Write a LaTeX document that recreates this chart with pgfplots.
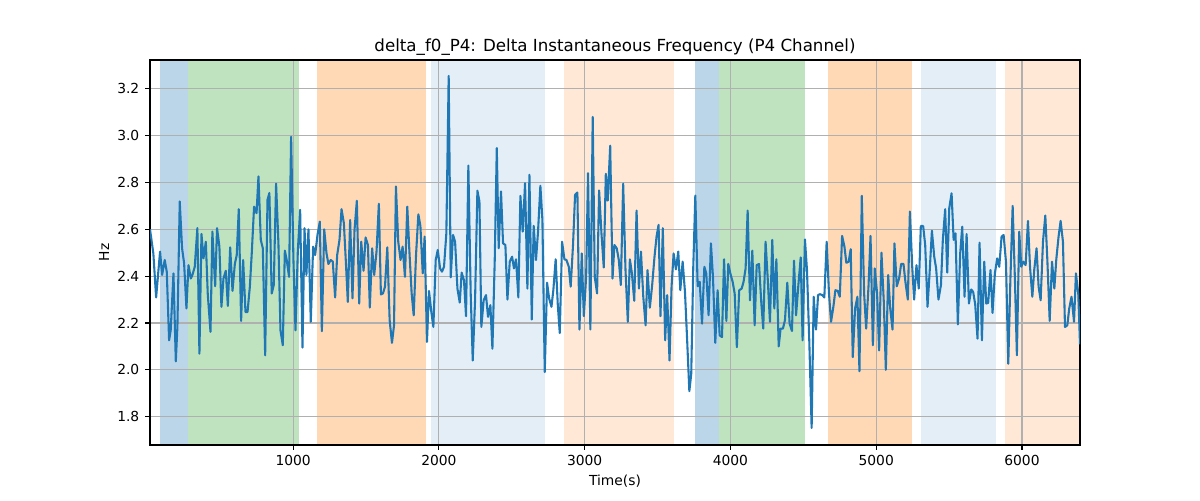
\documentclass[border=0pt]{standalone}
\usepackage{pgfplots}
\pgfplotsset{compat=1.18}
\usepackage{pgfplotstable}
\usepackage{fontspec}
\setmainfont{DejaVu Sans}
\definecolor{tabblue}{HTML}{1F77B4}
\definecolor{taborange}{HTML}{FF7F0E}
\definecolor{tabgreen}{HTML}{2CA02C}
\definecolor{gridgray}{HTML}{B0B0B0}
\pgfplotstableread{
t v
18 2.600
41 2.497
60 2.309
87 2.505
101 2.405
119 2.469
133 2.419
149 2.126
160 2.169
179 2.412
195 2.036
206 2.183
222 2.719
238 2.519
252 2.455
268 2.262
282 2.447
298 2.390
309 2.405
325 2.440
343 2.605
357 2.069
371 2.580
385 2.476
401 2.547
414 2.326
433 2.162
446 2.590
465 2.357
478 2.605
494 2.526
508 2.269
522 2.390
538 2.423
552 2.273
568 2.523
584 2.337
600 2.452
613 2.490
627 2.686
643 2.209
657 2.469
673 2.247
687 2.247
703 2.355
716 2.497
732 2.697
749 2.669
762 2.826
778 2.555
792 2.519
808 2.062
824 2.726
837 2.755
853 2.326
867 2.362
883 2.795
899 2.540
913 2.169
929 2.105
943 2.509
956 2.469
972 2.397
986 2.995
1002 2.469
1016 2.169
1032 2.505
1048 2.683
1064 2.095
1078 2.605
1091 2.405
1105 2.600
1121 2.205
1137 2.526
1151 2.490
1167 2.576
1183 2.633
1197 2.165
1213 2.600
1229 2.497
1242 2.452
1258 2.469
1272 2.462
1288 2.309
1302 2.490
1318 2.555
1332 2.686
1348 2.626
1362 2.457
1375 2.290
1391 2.640
1407 2.305
1421 2.597
1437 2.722
1453 2.283
1467 2.547
1483 2.423
1497 2.565
1513 2.533
1526 2.266
1542 2.519
1556 2.405
1572 2.505
1588 2.709
1602 2.322
1616 2.326
1630 2.355
1646 2.523
1662 2.212
1678 2.115
1692 2.190
1705 2.783
1721 2.547
1737 2.469
1751 2.526
1767 2.397
1783 2.697
1797 2.512
1813 2.326
1827 2.233
1843 2.490
1859 2.664
1873 2.614
1889 2.412
1902 2.569
1918 2.119
1932 2.337
1948 2.247
1962 2.183
1978 2.469
1992 2.512
2008 2.433
2021 2.419
2035 2.440
2051 2.583
2067 3.255
2081 2.395
2097 2.576
2111 2.547
2127 2.347
2143 2.287
2156 2.415
2172 2.383
2186 2.229
2202 2.872
2218 2.326
2232 2.040
2248 2.297
2264 2.765
2278 2.719
2291 2.183
2307 2.297
2323 2.319
2337 2.226
2353 2.276
2367 2.090
2383 2.469
2397 2.947
2410 2.519
2426 2.762
2440 2.540
2456 2.533
2470 2.300
2486 2.462
2502 2.483
2515 2.433
2529 2.472
2545 2.309
2559 2.743
2575 2.590
2591 2.797
2607 2.347
2621 2.833
2637 2.215
2650 2.615
2666 2.469
2680 2.590
2696 2.786
2710 2.640
2726 1.990
2742 2.372
2756 2.305
2772 2.269
2785 2.340
2801 2.472
2815 2.283
2829 2.157
2845 2.547
2861 2.472
2875 2.469
2891 2.440
2904 2.355
2920 2.533
2934 2.747
2950 2.757
2964 2.172
2980 2.497
2994 2.229
3010 2.397
3023 2.840
3039 2.172
3055 3.080
3069 2.397
3085 2.326
3099 2.766
3115 2.583
3131 2.437
3145 2.837
3158 2.723
3175 2.957
3191 2.390
3204 2.533
3220 2.519
3234 2.469
3248 2.362
3264 2.795
3280 2.426
3296 2.205
3310 2.472
3324 2.412
3340 2.295
3356 2.680
3372 2.347
3386 2.505
3402 2.312
3418 2.190
3431 2.426
3447 2.265
3463 2.362
3479 2.483
3493 2.569
3507 2.619
3520 2.229
3536 2.605
3552 2.126
3566 2.319
3582 2.040
3596 2.355
3610 2.497
3626 2.429
3642 2.505
3656 2.340
3672 2.462
3688 2.333
3702 2.140
3718 1.909
3731 1.983
3745 2.440
3759 2.744
3775 2.357
3789 2.376
3805 2.197
3821 2.440
3834 2.412
3850 2.233
3866 2.540
3880 2.397
3896 2.115
3912 2.340
3926 2.147
3942 2.140
3956 2.472
3972 2.209
3985 2.452
3999 2.412
4015 2.376
4029 2.326
4044 2.097
4060 2.340
4077 2.347
4090 2.376
4104 2.433
4118 2.680
4134 2.297
4150 2.509
4166 2.190
4180 2.447
4196 2.452
4212 2.283
4225 2.176
4241 2.547
4255 2.397
4271 2.205
4287 2.555
4301 2.262
4315 2.472
4331 2.100
4344 2.176
4360 2.176
4374 2.212
4390 2.372
4406 2.197
4422 2.166
4436 2.466
4450 2.233
4466 2.362
4482 2.480
4495 2.126
4511 2.557
4525 2.426
4541 2.119
4557 1.752
4571 2.312
4587 2.172
4601 2.319
4614 2.323
4630 2.319
4644 2.309
4660 2.547
4676 2.326
4690 2.205
4706 2.269
4720 2.340
4736 2.337
4750 2.312
4766 2.572
4782 2.526
4795 2.457
4811 2.462
4825 2.515
4839 2.054
4855 2.262
4871 2.312
4885 1.994
4901 2.743
4917 2.326
4931 2.176
4947 2.355
4961 2.572
4977 2.105
4990 2.433
5006 2.326
5020 2.083
5036 2.500
5052 2.290
5066 2.000
5082 2.405
5096 2.262
5112 2.172
5125 2.540
5141 2.357
5157 2.390
5171 2.452
5187 2.452
5201 2.372
5217 2.300
5231 2.676
5247 2.440
5260 2.300
5276 2.447
5292 2.347
5306 2.614
5322 2.614
5336 2.533
5352 2.269
5366 2.412
5382 2.594
5398 2.483
5411 2.433
5427 2.300
5444 2.362
5457 2.555
5473 2.686
5487 2.415
5501 2.690
5517 2.754
5531 2.555
5544 2.583
5560 2.194
5576 2.497
5590 2.611
5606 2.312
5620 2.580
5636 2.283
5652 2.343
5665 2.333
5679 2.280
5695 2.133
5709 2.543
5725 2.126
5741 2.462
5755 2.283
5768 2.286
5784 2.426
5798 2.243
5814 2.412
5830 2.476
5844 2.440
5860 2.569
5874 2.576
5890 2.462
5906 2.026
5920 2.376
5936 2.700
5952 2.376
5965 2.062
5981 2.590
5995 2.440
6009 2.462
6025 2.447
6041 2.636
6055 2.440
6071 2.312
6084 2.426
6100 2.519
6114 2.355
6128 2.297
6144 2.547
6160 2.659
6174 2.469
6190 2.209
6206 2.462
6222 2.347
6235 2.469
6251 2.569
6265 2.636
6281 2.547
6295 2.183
6311 2.190
6324 2.262
6340 2.312
6357 2.205
6370 2.412
6386 2.326
6398 2.109
}\datatable
\begin{document}
\begin{tikzpicture}
\begin{axis}[
  set layers,
  at={(90pt,33pt)}, anchor=south west,
  scale only axis, width=558pt, height=231pt,
  xmin=18, xmax=6398, ymin=1.679, ymax=3.323,
  xtick={1000,2000,3000,4000,5000,6000},
  ytick={1.8,2.0,2.2,2.4,2.6,2.8,3.0,3.2},
  yticklabel style={/pgf/number format/.cd, fixed, fixed zerofill, precision=1},
  /pgf/number format/assume math mode=true,
  xticklabel style={/pgf/number format/1000 sep={}},
  grid=major,
  major grid style={gridgray, line width=0.67pt},
  axis line style={line width=0.67pt},
  tick style={black, line width=0.67pt},
  major tick length=2.9pt,
  tick align=outside,
  xtick pos=bottom, ytick pos=left,
  ticklabel style={font=\fontsize{8.3pt}{10pt}\selectfont},
  xlabel={Time(s)}, ylabel={Hz},
  label style={font=\fontsize{8.3pt}{10pt}\selectfont},
  xlabel style={yshift=1.5pt},
  ylabel style={yshift=-2pt},
  title={delta\_f0\_P4: Delta Instantaneous Frequency (P4 Channel)},
  title style={font=\fontsize{10pt}{12pt}\selectfont, yshift=-6.5pt},
]
\pgfplotsset{spanstyle/.style={draw=none, forget plot, on layer=axis background}}
\addplot[spanstyle, fill=tabblue, fill opacity=0.3] coordinates {(89,1.679) (282,1.679) (282,3.323) (89,3.323)} -- cycle;
\addplot[spanstyle, fill=tabgreen, fill opacity=0.3] coordinates {(282,1.679) (1041,1.679) (1041,3.323) (282,3.323)} -- cycle;
\addplot[spanstyle, fill=taborange, fill opacity=0.3] coordinates {(1167,1.679) (1914,1.679) (1914,3.323) (1167,3.323)} -- cycle;
\addplot[spanstyle, fill=tabblue, fill opacity=0.12] coordinates {(1943,1.679) (2730,1.679) (2730,3.323) (1943,3.323)} -- cycle;
\addplot[spanstyle, fill=taborange, fill opacity=0.17] coordinates {(2856,1.679) (3610,1.679) (3610,3.323) (2856,3.323)} -- cycle;
\addplot[spanstyle, fill=tabblue, fill opacity=0.3] coordinates {(3756,1.679) (3924,1.679) (3924,3.323) (3756,3.323)} -- cycle;
\addplot[spanstyle, fill=tabgreen, fill opacity=0.3] coordinates {(3924,1.679) (4511,1.679) (4511,3.323) (3924,3.323)} -- cycle;
\addplot[spanstyle, fill=taborange, fill opacity=0.3] coordinates {(4669,1.679) (5247,1.679) (5247,3.323) (4669,3.323)} -- cycle;
\addplot[spanstyle, fill=tabblue, fill opacity=0.12] coordinates {(5309,1.679) (5823,1.679) (5823,3.323) (5309,3.323)} -- cycle;
\addplot[spanstyle, fill=taborange, fill opacity=0.17] coordinates {(5885,1.679) (6398,1.679) (6398,3.323) (5885,3.323)} -- cycle;
\addplot[tabblue, line width=1.25pt, line join=round, mark=none] table[x=t, y=v] {\datatable};
\end{axis}
\path (0,0) rectangle (720pt,300pt);
\end{tikzpicture}
\end{document}
